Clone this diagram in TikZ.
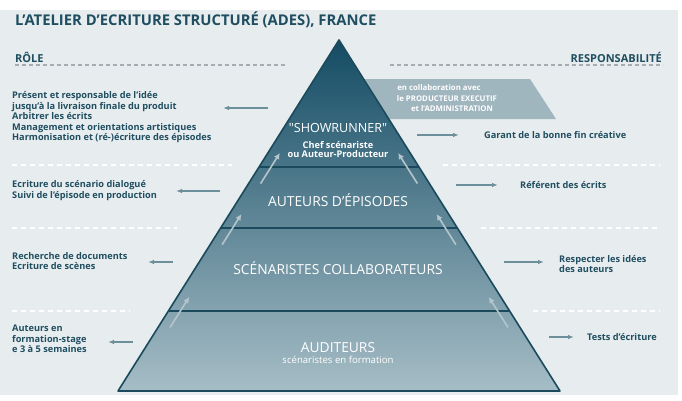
\documentclass[tikz,border=0pt]{standalone}
\usepackage{fontspec}
\setmainfont{Open Sans}
\usetikzlibrary{calc,arrows.meta,positioning}
\definecolor{adesbg}{HTML}{E7ECEE}
\definecolor{adesdark}{HTML}{1F4E60}
\definecolor{adesgrey}{HTML}{A3ADB2}
\definecolor{adesarrow}{HTML}{6D8F9C}
\definecolor{adesup}{HTML}{B4C5CC}
\definecolor{adesribbon}{HTML}{A0B6BF}
\definecolor{adeslayer}{HTML}{1A4A5C}
\definecolor{adestop}{HTML}{144C64}
\definecolor{adesmid}{HTML}{437689}
\definecolor{adesbot}{HTML}{A6BDC6}
\newcommand\adesquote{\XeTeXglyph\XeTeXcharglyph"22\relax}
\begin{document}
\begin{tikzpicture}[x=1pt,y=-1pt,
    title/.style={anchor=west,inner sep=0pt,text=adesdark,font=\bfseries\fontsize{14.8}{16}\selectfont},
    head/.style={inner sep=0pt,text=adesdark,font=\bfseries\fontsize{11}{12}\selectfont},
    roletext/.style={anchor=west,align=left,inner sep=0pt,text=adesdark,font=\bfseries\fontsize{9.2}{10.5}\selectfont},
    layertext/.style={inner sep=0pt,text=white,font=\fontsize{13.8}{15}\selectfont},
    subtext/.style={inner sep=0pt,align=center,text=white,font=\fontsize{9.6}{10}\selectfont},
    ribbontext/.style={inner sep=0pt,text=white,font=\bfseries\fontsize{7.8}{10}\selectfont},
    sidearrow/.style={draw=adesarrow,line width=1.2pt,-{Latex[length=6pt,width=4.5pt]}},
    uparrow/.style={draw=adesup,line width=1.6pt,-{Latex[length=6pt,width=6pt]}},
    sepline/.style={white,line width=1.3pt,dash pattern=on 5pt off 4pt},
    headline/.style={adesgrey,line width=1.3pt,dash pattern=on 4pt off 3pt},
    layerline/.style={adeslayer,line width=1.6pt}]
    \useasboundingbox (0,0) rectangle (682,400);
    \fill[white] (0,0) rectangle (682,400);
    \fill[adesbg] (0,10) rectangle (678,395);

    \node[title] (title) at (15,20) {L’ATELIER D’ECRITURE STRUCTURÉ (ADES), FRANCE};
    \node[head,anchor=west] (role) at (15,57) {RÔLE};
    \node[head,anchor=east] (resp) at (662,57) {RESPONSABILITÉ};
    \draw[headline] (15,65) -- (287,65);
    \draw[headline] (390,65) -- (663,65);

    \draw[sepline] (12,165) -- (232,165);
    \draw[sepline] (12,228) -- (177,228);
    \draw[sepline] (12,311) -- (130,311);
    \draw[sepline] (443,165) -- (660,165);
    \draw[sepline] (481,228) -- (660,228);
    \draw[sepline] (533,311) -- (660,311);

    \fill[adesribbon] (350,79) -- (530,79) -- (556,119) -- (350,119) -- cycle;
    \node[ribbontext] (collab) at (439,88) {en collaboration avec};
    \node[ribbontext] (producteur) at (447,99) {le PRODUCTEUR EXECUTIF};
    \node[ribbontext] (admin) at (452,109) {et l'ADMINISTRATION};

    \coordinate (apex) at (339,40);
    \coordinate (bl) at (118,391);
    \coordinate (br) at (560,391);
    \shade[top color=adestop,middle color=adesmid,bottom color=adesbot] (apex) -- (br) -- (bl) -- cycle;
    \foreach \t in {0.362,0.536,0.772} {
        \draw[layerline] ($(apex)!\t!(bl)$) -- ($(apex)!\t!(br)$);
        \draw[uparrow] ($(apex)!{\t+0.047}!(bl)+(12,0)$) -- ($(apex)!{\t-0.04}!(bl)+(12,0)$);
        \draw[uparrow] ($(apex)!{\t+0.047}!(br)+(-12,0)$) -- ($(apex)!{\t-0.04}!(br)+(-12,0)$);
    }
    \draw[layerline,line join=round] (apex) -- (br) -- (bl) -- cycle;

    \node[layertext,font=\fontsize{12.6}{14}\selectfont] (showrunner) at (338,128) {\adesquote SHOWRUNNER\adesquote};
    \node[subtext,font=\bfseries\fontsize{9.2}{9.6}\selectfont,below=8pt of showrunner] (chef) {Chef scénariste\\ou Auteur-Producteur};
    \node[layertext] (auteurs) at (338,200) {AUTEURS D'ÉPISODES};
    \node[layertext] (scenaristes) at (338,268) {SCÉNARISTES COLLABORATEURS};
    \node[layertext] (auditeurs) at (338,348) {AUDITEURS};
    \node[subtext,below=2.5pt of auditeurs] (formation) {scénaristes en formation};

    \node[roletext] (role1) at (12,117.5) {Présent et responsable de l'idée\\jusqu'à la livraison finale du produit\\Arbitrer les écrits\\Management et orientations artistiques\\Harmonisation et (ré-)écriture des épisodes};
    \node[roletext] (role2) at (12,190.5) {Ecriture du scénario dialogué\\Suivi de l'épisode en production};
    \node[roletext] (role3) at (12,261) {Recherche de documents\\Ecriture de scènes};
    \node[roletext] (role4) at (12,339) {Auteurs en\\formation-stage\\e 3 à 5 semaines};
    \node[roletext] (resp1) at (484,135) {Garant de la bonne fin créative};
    \node[roletext] (resp2) at (520,185) {Référent des écrits};
    \node[roletext] (resp3) at (559,264) {Respecter les idées\\des auteurs};
    \node[roletext] (resp4) at (587,337) {Tests d'écriture};

    \foreach \n/\y/\xa/\xb in {a/108/268/223, b/191/220/176, c/262/173/148, d/342/133/108,
        e/135/417/459, f/185/456/498, g/262/504/544, h/337/549/574} {
        \coordinate (\n0) at (\xa,\y);
        \coordinate (\n1) at (\xb,\y);
        \draw[sidearrow] (\n0) -- (\n1);
    }
\end{tikzpicture}
\end{document}
